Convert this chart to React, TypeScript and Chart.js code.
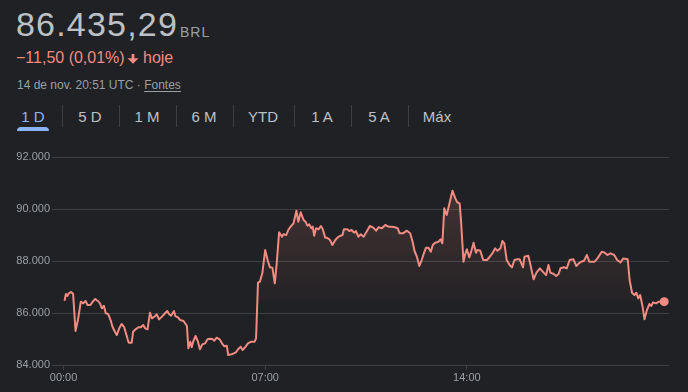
import React, { useEffect, useRef } from "react";
import { Chart, registerables } from "chart.js";

Chart.register(...registerables);

// ---- data ----
const minutesSinceMidnight = [
  2, 5, 8, 11, 16, 20, 25, 30, 36, 41,
  46, 50, 56, 61, 66, 71, 76, 80, 84, 88,
  93, 98, 102, 107, 111, 116, 121, 126, 130, 134,
  136, 142, 145, 150, 156, 161, 166, 170, 175, 180,
  184, 191, 194, 199, 205, 210, 216, 220, 224, 230,
  233, 239, 243, 250, 257, 260, 264, 267, 270, 275,
  280, 284, 289, 295, 300, 305, 310, 314, 319, 325,
  330, 335, 340, 343, 350, 359, 364, 369, 373, 378,
  384, 391, 398, 401, 405, 409, 414, 420, 425, 430,
  435, 440, 444, 449, 455, 458, 464, 468, 473, 479,
  485, 489, 494, 500, 504, 508, 512, 516, 519, 522,
  526, 531, 536, 540, 545, 549, 555, 560, 566, 571,
  577, 581, 584, 591, 595, 600, 605, 609, 614, 619,
  625, 632, 638, 645, 651, 656, 663, 670, 677, 684,
  690, 696, 700, 707, 715, 722, 727, 731, 736, 741,
  746, 750, 755, 760, 765, 769, 774, 781, 785, 789,
  791, 793, 798, 805, 810, 816, 820, 825, 828, 833,
  836, 840, 845, 849, 854, 859, 862, 868, 874, 882,
  889, 894, 899, 904, 910, 914, 918, 923, 929, 934,
  939, 945, 950, 957, 960, 968, 973, 979, 985, 992,
  1000, 1005, 1010, 1014, 1021, 1026, 1031, 1035, 1042, 1048,
  1054, 1062, 1068, 1073, 1078, 1084, 1090, 1095, 1100, 1106,
  1112, 1121, 1126, 1133, 1139, 1147, 1153, 1160, 1166, 1175,
  1179, 1184, 1189, 1193, 1197, 1201, 1206, 1210, 1215, 1220,
  1224, 1228, 1234, 1240, 1245, 1251,
];

const prices = [
  86473, 86730, 86654, 86758, 86808, 86730, 85308, 85730, 86435, 86373,
  86462, 86308, 86308, 86435, 86538, 86473, 86370, 86180, 86280, 85988,
  85960, 85730, 85473, 85280, 85153, 85410, 85577, 85470, 85218, 84960,
  84858, 84858, 85280, 85372, 85450, 85450, 85540, 85410, 85372, 86012,
  85795, 85885, 85950, 85755, 85860, 85960, 86077, 85950, 85897, 86077,
  85880, 85820, 85730, 85692, 85500, 84641, 84897, 84680, 84897, 85115,
  84897, 84603, 84795, 84833, 84987, 85012, 85000, 84935, 85050, 84987,
  84833, 84718, 84743, 84385, 84410, 84487, 84615, 84705, 84577, 84680,
  84833, 84897, 84897, 85027, 87166, 87205, 87527, 88423, 88038, 87757,
  87745, 87142, 87910, 89104, 88935, 89030, 89000, 89192, 89320, 89450,
  89935, 89512, 89873, 89577, 89512, 89358, 89410, 89258, 89320, 88973,
  89258, 89218, 89346, 89218, 88896, 88896, 88808, 88615, 88808, 88910,
  88973, 89000, 89219, 89219, 89154, 89192, 89090, 89154, 88935, 89027,
  88935, 89154, 89346, 89282, 89167, 89295, 89258, 89385, 89320, 89320,
  89296, 89258, 89065, 89065, 89166, 89065, 88743, 88385, 88166, 87808,
  88038, 88270, 88512, 88512, 88358, 88615, 88705, 88743, 88835, 88680,
  89346, 90027, 89770, 90308, 90704, 90410, 90258, 90219, 89512, 87973,
  88231, 88450, 88142, 88360, 88704, 88320, 88423, 88397, 88038, 88038,
  88192, 88320, 88488, 88390, 88488, 88769, 88680, 88038, 87846, 87757,
  88038, 88065, 88065, 87757, 88165, 88204, 87808, 87296, 87552, 87718,
  87552, 87462, 87846, 87552, 87500, 87423, 87500, 87718, 87757, 87718,
  88038, 88065, 87808, 87910, 87973, 88012, 88231, 87973, 87973, 87973,
  88100, 88358, 88333, 88231, 88295, 88231, 88038, 87948, 88100, 88065,
  87269, 86781, 86692, 86781, 86565, 86692, 86243, 85758, 86115, 86346,
  86270, 86410, 86370, 86435, 86435, 86435.29,
];

const previousClose = 86446.79;
const yTickValues = [84000, 86000, 88000, 90000, 92000];
const xTickMinutes = [0, 420, 840];
const xTickLabels = ["00:00", "07:00", "14:00"];
const tabLabels = ["1 D", "5 D", "1 M", "6 M", "YTD", "1 A", "5 A", "Máx"];

const priceText = "86.435,29";
const currencyText = "BRL";
const changeText = "\u221211,50 (0,01%)";
const periodText = "hoje";
const dateText = "14 de nov. 20:51 UTC \u00b7 ";
const sourcesText = "Fontes";

// ---- styles ----
const BG = "#202124";
const GRID = "#3c4043";
const AXIS_TEXT = "#9aa0a6";
const RED = "#f28b82";
const FONT = 'Arial, "Liberation Sans", sans-serif';

const tabCenters = [33, 90, 147, 204, 263, 322, 379, 437];
const separatorXs = [62, 119, 176, 233, 294, 351, 408];

function formatThousands(v: number): string {
  const th = Math.floor(v / 1000);
  const rest = Math.round(v % 1000);
  return th + "." + String(rest).padStart(3, "0");
}

export default function App() {
  const canvasRef = useRef<HTMLCanvasElement>(null);

  useEffect(() => {
    const canvas = canvasRef.current;
    if (!canvas) return;
    Chart.defaults.font.family = FONT;
    const last = prices.length - 1;
    const chart = new Chart(canvas, {
      type: "line",
      data: {
        datasets: [
          {
            data: minutesSinceMidnight.map((m, i) => ({ x: m, y: prices[i] })),
            borderColor: RED,
            borderWidth: 2,
            borderJoinStyle: "round",
            tension: 0,
            pointRadius: (c: any) => (c.dataIndex === last ? 4.5 : 0),
            pointHoverRadius: (c: any) => (c.dataIndex === last ? 4.5 : 0),
            pointBackgroundColor: RED,
            pointBorderWidth: 0,
            fill: { target: { value: previousClose }, below: "rgba(0,0,0,0)" },
            backgroundColor: (c: any) => {
              const chart = c.chart;
              const area = chart.chartArea;
              const ys = chart.scales.y;
              if (!area || !ys) return "rgba(242,139,130,0.1)";
              const top = ys.getPixelForValue(Math.max(...prices));
              const bottom = ys.getPixelForValue(previousClose);
              const g = chart.ctx.createLinearGradient(0, top, 0, bottom);
              g.addColorStop(0, "rgba(242,139,130,0.17)");
              g.addColorStop(1, "rgba(242,139,130,0.02)");
              return g;
            },
          } as any,
        ],
      },
      options: {
        responsive: false,
        animation: false,
        events: [],
        layout: { padding: { top: 12, right: 19, left: 0, bottom: 0 } },
        plugins: {
          legend: { display: false },
          tooltip: { enabled: false },
        },
        scales: {
          x: {
            type: "linear",
            min: -24,
            max: 1261,
            afterBuildTicks: (axis: any) => {
              axis.ticks = xTickMinutes.map((v) => ({ value: v }));
            },
            afterFit: (scale: any) => {
              scale.height = 27;
            },
            ticks: {
              autoSkip: false,
              maxRotation: 0,
              padding: 1,
              color: AXIS_TEXT,
              font: { size: 11, family: FONT },
              callback: (v: any) => {
                const idx = xTickMinutes.indexOf(Number(v));
                return idx >= 0 ? xTickLabels[idx] : "";
              },
            },
            grid: {
              drawOnChartArea: false,
              drawTicks: true,
              tickLength: 5,
              color: GRID,
            },
            border: { display: false },
          },
          y: {
            min: 84000,
            max: 92000,
            afterBuildTicks: (axis: any) => {
              axis.ticks = yTickValues.map((v) => ({ value: v }));
            },
            afterFit: (scale: any) => {
              scale.width = 52;
            },
            ticks: {
              padding: 2,
              color: AXIS_TEXT,
              font: { size: 11, family: FONT },
              callback: (v: any) => formatThousands(Number(v)),
            },
            grid: { color: GRID, drawTicks: false, lineWidth: 1 },
            border: { display: false },
          },
        },
      } as any,
    });
    return () => chart.destroy();
  }, []);

  return (
    <div
      style={{
        position: "fixed",
        left: 0,
        top: 0,
        width: 688,
        height: 392,
        background: BG,
        fontFamily: FONT,
        overflow: "hidden",
      }}
    >
      <div
        style={{
          position: "absolute",
          left: 16,
          top: 7,
          fontSize: 34,
          lineHeight: "34px",
          color: "#bdc1c6",
          letterSpacing: "1.2px",
          whiteSpace: "nowrap",
        }}
      >
        {priceText}
      </div>
      <div
        style={{
          position: "absolute",
          left: 180,
          top: 25,
          fontSize: 14,
          lineHeight: "14px",
          color: AXIS_TEXT,
          letterSpacing: "1px",
          whiteSpace: "nowrap",
        }}
      >
        {currencyText}
      </div>
      <div
        style={{
          position: "absolute",
          left: 16,
          top: 50,
          fontSize: 16,
          lineHeight: "16px",
          color: RED,
          whiteSpace: "nowrap",
        }}
      >
        {changeText}
      </div>
      <svg
        style={{ position: "absolute", left: 127, top: 54 }}
        width={12}
        height={10}
        viewBox="0 0 12 10"
      >
        <rect x={4.6} y={0} width={2.8} height={5.5} fill={RED} />
        <polygon points="0.5,4.2 6,9.8 11.5,4.2" fill={RED} />
      </svg>
      <div
        style={{
          position: "absolute",
          left: 143,
          top: 50,
          fontSize: 16,
          lineHeight: "16px",
          color: RED,
          whiteSpace: "nowrap",
        }}
      >
        {periodText}
      </div>
      <div
        style={{
          position: "absolute",
          left: 17,
          top: 79,
          fontSize: 12,
          lineHeight: "12px",
          color: AXIS_TEXT,
          whiteSpace: "pre",
        }}
      >
        {dateText}
        <span style={{ textDecoration: "underline", textUnderlineOffset: "2px" }}>
          {sourcesText}
        </span>
      </div>

      {tabLabels.map((t, i) => (
        <div
          key={t}
          style={{
            position: "absolute",
            left: tabCenters[i] - 30,
            width: 60,
            top: 109,
            fontSize: 15,
            lineHeight: "15px",
            textAlign: "center",
            color: i === 0 ? "#8ab4f8" : "#bdc1c6",
            whiteSpace: "nowrap",
          }}
        >
          {t}
        </div>
      ))}
      {separatorXs.map((x) => (
        <div
          key={x}
          style={{
            position: "absolute",
            left: x,
            top: 105,
            width: 1,
            height: 22,
            background: GRID,
          }}
        />
      ))}
      <div
        style={{
          position: "absolute",
          left: 17,
          top: 127,
          width: 32,
          height: 4,
          background: "#8ab4f8",
          borderRadius: "4px 4px 0 0",
        }}
      />

      <canvas
        ref={canvasRef}
        width={688}
        height={247}
        style={{ position: "absolute", left: 0, top: 145, width: 688, height: 247 }}
      />
    </div>
  );
}
